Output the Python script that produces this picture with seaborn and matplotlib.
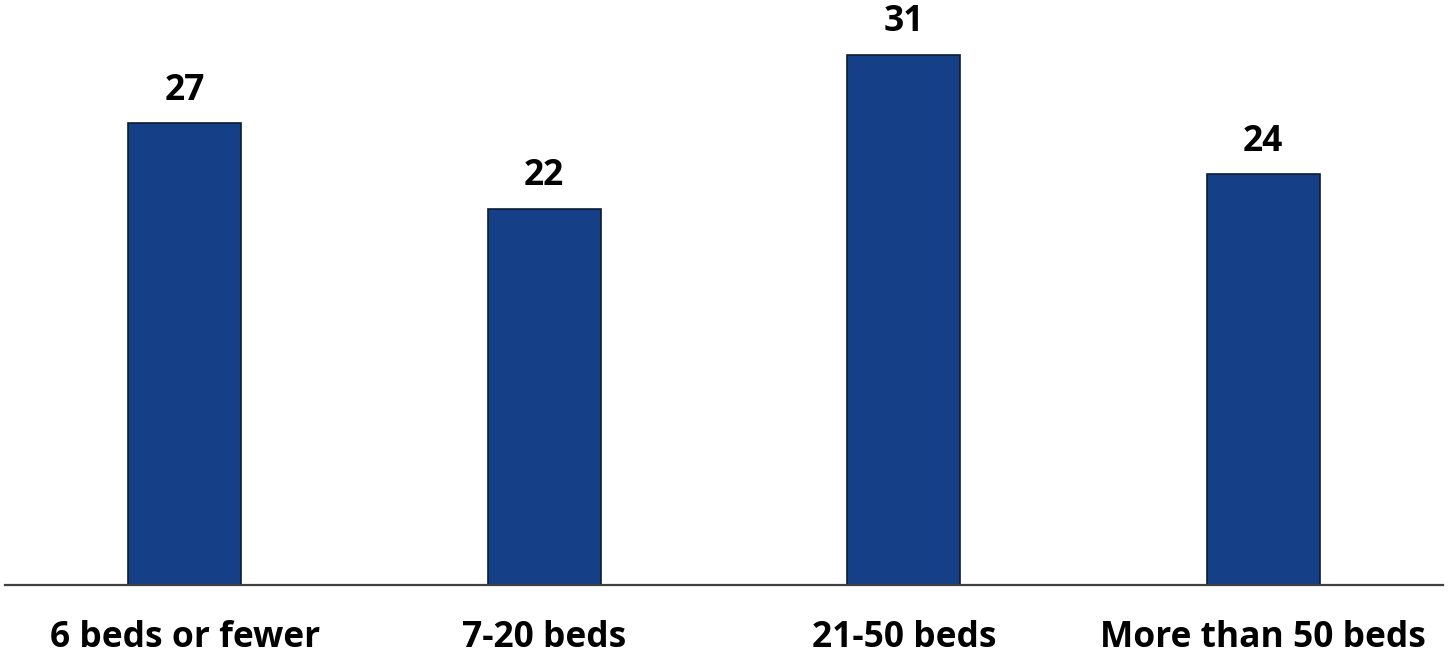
import matplotlib
matplotlib.use("Agg")
import matplotlib.pyplot as plt
import seaborn as sns
import pandas as pd

categories = ["6 beds or fewer", "7-20 beds", "21-50 beds", "More than 50 beds"]
values = [27, 22, 31, 24]

sns.set_theme(style="white")
plt.rcParams["font.family"] = ["Open Sans", "DejaVu Sans"]

df = pd.DataFrame({"category": categories, "value": values})

fig = plt.figure(figsize=(14.48, 6.54), dpi=100)
ax = fig.add_axes([5 / 1448, 69 / 654, 1438 / 1448, 585 / 654])

sns.barplot(data=df, x="category", y="value", color="#153F86", width=0.314,
            edgecolor="#0d1b33", linewidth=1.2, saturation=1, ax=ax)

ax.set_xlim(-0.5, 3.5)
ax.set_ylim(0, 34.2)
ax.set_xlabel("")
ax.set_ylabel("")
ax.set_yticks([])
for side in ["top", "right", "left"]:
    ax.spines[side].set_visible(False)
ax.spines["bottom"].set_color("#404040")
ax.spines["bottom"].set_linewidth(1.6)
ax.tick_params(axis="x", length=0, pad=25, labelsize=25.5, labelcolor="black")
for lbl in ax.get_xticklabels():
    lbl.set_fontweight("bold")

for i, v in enumerate(values):
    ax.annotate(f"{v}", xy=(i, v), xytext=(0, 10.5), textcoords="offset points",
                ha="center", va="bottom", fontsize=25.5, fontweight="bold",
                color="black")

fig.savefig("out.png", dpi=100)
